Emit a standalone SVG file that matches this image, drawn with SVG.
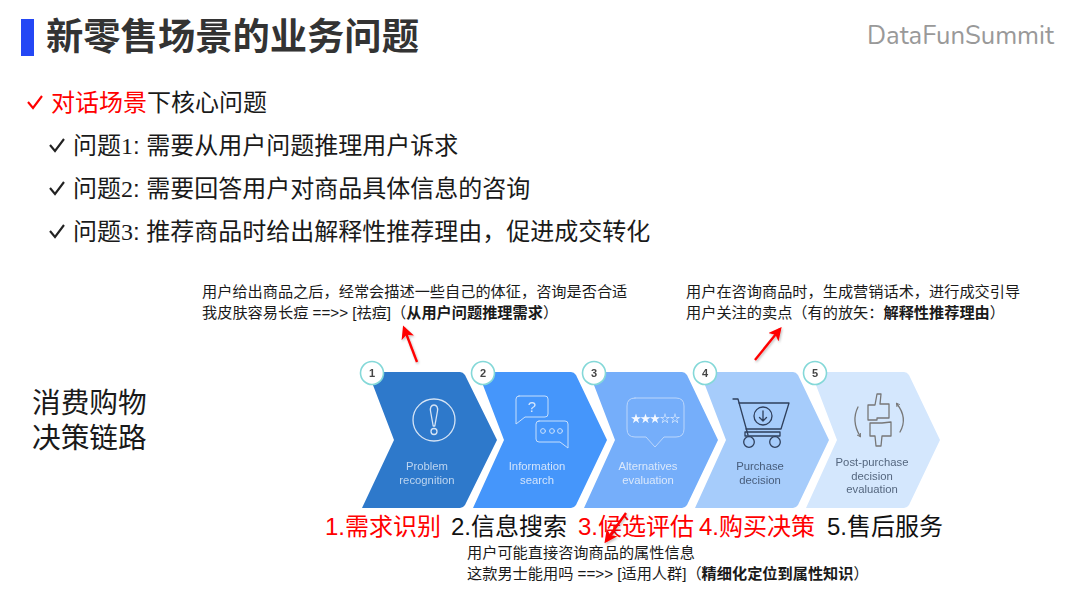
<svg xmlns="http://www.w3.org/2000/svg" width="1080" height="599" viewBox="0 0 1080 599">
<style>
text{font-family:"Liberation Sans","Noto Sans CJK SC",sans-serif}
.title{font-size:37.3px;font-weight:700;fill:#333}
.q{font-size:24px;fill:#1a1a1a}
.num{font-family:"Liberation Serif","Noto Sans CJK SC",serif}
.lead{font-size:28.7px;fill:#1a1a1a}
.step{font-size:24px;fill:#111}
.red{fill:#f00}
.note{font-size:15.2px;fill:#1a1a1a}
.b{font-weight:700}
.cap{font-size:11.3px;text-anchor:middle}
.idx{font-size:11px;font-weight:700;text-anchor:middle;fill:#444}
.ring{fill:#fff;stroke:#84d8d8;stroke-width:1.6}
.ico{fill:none;stroke-linejoin:round;stroke-linecap:round}
.arrow{fill:none;stroke:#f00;stroke-width:2.4;marker-end:url(#head)}
.check{fill:none;stroke-width:2.1;stroke-linejoin:miter}
</style>
<defs>
<marker id="head" viewBox="0 0 10 10" refX="8" refY="5" markerWidth="5.5" markerHeight="5.5" orient="auto"><path d="M0 0L10 5L0 10L2.5 5Z" fill="#f00"/></marker>
<marker id="curl" viewBox="0 0 10 10" refX="6" refY="5" markerWidth="3.6" markerHeight="3.6" orient="auto"><path d="M1 1L8 5L1 9" fill="none" stroke="#777" stroke-width="2"/></marker>
<filter id="soft" x="-5%" y="-5%" width="110%" height="110%"><feGaussianBlur stdDeviation="0.45"/></filter>
<filter id="sh" x="-30%" y="-30%" width="160%" height="160%"><feDropShadow dx="1" dy="1.5" stdDeviation="1" flood-color="#000" flood-opacity="0.25"/></filter>
</defs>
<rect width="1080" height="599" fill="#fff"/>
<g id="header">
<rect x="21" y="19" width="13" height="37" fill="#2447f5"/>
<text class="title" x="46" y="50">新零售场景的业务问题</text>
<text x="867" y="44" font-size="26" fill="#999" textLength="187" lengthAdjust="spacingAndGlyphs" style="font-family:'Nunito','Lato',sans-serif">DataFunSummit</text>
</g>
<g id="questions">
<path class="check" stroke="#f00" d="M28 102L33 108L42 96"/>
<text class="q" x="51" y="111"><tspan class="red">对话场景</tspan>下核心问题</text>
<path class="check" stroke="#222" d="M50 145L55 151L64 139"/>
<text class="q" x="73" y="154">问题<tspan class="num">1</tspan>: 需要从用户问题推理用户诉求</text>
<path class="check" stroke="#222" d="M50 188L55 194L64 182"/>
<text class="q" x="73" y="197">问题<tspan class="num">2</tspan>: 需要回答用户对商品具体信息的咨询</text>
<path class="check" stroke="#222" d="M50 231L55 237L64 225"/>
<text class="q" x="73" y="240">问题<tspan class="num">3</tspan>: 推荐商品时给出解释性推荐理由，促进成交转化</text>
</g>
<g id="lead">
<text class="lead" x="32" y="413">消费购物</text>
<text class="lead" x="32" y="448">决策链路</text>
</g>
<g id="chain" filter="url(#soft)">
<g id="step1">
<path d="M368 372H460Q463 372 465 375L497 440L465 505Q463 508 460 508H362L394 440Z" fill="#2f79cb"/>
<g class="ico" stroke="#d5e4f5" stroke-width="1.3"><circle cx="434" cy="420" r="21"/><path d="M434 405C437 405 438 408 437.5 411L434.8 426H433.2L430.5 411C430 408 431 405 434 405Z"/><circle cx="434" cy="431.5" r="3"/></g>
<text class="cap" x="427" y="470" fill="#bcd5f0">Problem</text><text class="cap" x="427" y="484" fill="#bcd5f0">recognition</text>
<circle class="ring" cx="372" cy="373" r="11.5"/><text class="idx" x="372" y="377">1</text>
</g>
<g id="step2">
<path d="M478 372H571Q574 372 576 375L607 440L576 505Q574 508 571 508H473L504 440Z" fill="#4596fb"/>
<g class="ico" stroke="#c7dffc" stroke-width="1"><path d="M519 396H545Q548 396 548 399V414Q548 417 545 417H525L516 424V399Q516 396 519 396Z"/><path d="M539 421H565Q568 421 568 424V448L560 442H539Q536 442 536 439V424Q536 421 539 421Z"/><circle cx="543" cy="431" r="2.4"/><circle cx="552" cy="431" r="2.4"/><circle cx="560" cy="431" r="2.4"/></g>
<text x="532" y="412" font-size="15" fill="#d5e6fc" text-anchor="middle">?</text>
<text class="cap" x="537" y="470" fill="#d2e4fc">Information</text><text class="cap" x="537" y="484" fill="#d2e4fc">search</text>
<circle class="ring" cx="483" cy="373" r="11.5"/><text class="idx" x="483" y="377">2</text>
</g>
<g id="step3">
<path d="M589 372H682Q685 372 687 375L718 440L687 505Q685 508 682 508H584L615 440Z" fill="#74aefa"/>
<g class="ico" stroke="#bcd6fb" stroke-width="1"><path d="M635 398H676Q684 398 684 406V429Q684 437 676 437H664L655 447L646 437H635Q627 437 627 429V406Q627 398 635 398Z"/></g>
<g fill="#f4f8ff" font-size="10.5" text-anchor="middle"><text x="636" y="422">★</text><text x="645.5" y="422">★</text><text x="655" y="422">★</text><text x="665" y="422">☆</text><text x="675" y="422">☆</text></g>
<text class="cap" x="648" y="470" fill="#dbe8fb">Alternatives</text><text class="cap" x="648" y="484" fill="#dbe8fb">evaluation</text>
<circle class="ring" cx="594" cy="373" r="11.5"/><text class="idx" x="594" y="377">3</text>
</g>
<g id="step4">
<path d="M700 372H793Q796 372 798 375L829 440L798 505Q796 508 793 508H695L726 440Z" fill="#a6ccfb"/>
<g class="ico" stroke="#2f3f5c" stroke-width="1.3"><path d="M733 399H738L748 435"/><path d="M739 403H789L781 429H746"/><rect x="745" y="432" width="35" height="4"/><circle cx="749" cy="442" r="5.3"/><circle cx="775" cy="442" r="5.3"/><circle cx="763" cy="416" r="9"/><path d="M763 411V421M759.5 417.5L763 421L766.5 417.5"/></g>
<text class="cap" x="760" y="470" fill="#475c7a">Purchase</text><text class="cap" x="760" y="484" fill="#475c7a">decision</text>
<circle class="ring" cx="705" cy="373" r="11.5"/><text class="idx" x="705" y="377">4</text>
</g>
<g id="step5">
<path d="M811 372H904Q907 372 909 375L940 440L909 505Q907 508 904 508H806L837 440Z" fill="#d4e7fd"/>
<g class="ico" stroke="#777" stroke-width="1.3"><path d="M868 405H875L877 394H881L880 404H889V418H877V420H868Z"/><path d="M870 423H882L891 422V436H882L881 446H876L875 436H870Z"/><path d="M858 407Q851 421 860 436" marker-end="url(#curl)"/><path d="M900 432Q908 418 897 404" marker-end="url(#curl)"/></g>
<text class="cap" x="872" y="466" fill="#55677f">Post-purchase</text><text class="cap" x="872" y="480" fill="#55677f">decision</text><text class="cap" x="872" y="493" fill="#55677f">evaluation</text>
<circle class="ring" cx="815" cy="373" r="11.5"/><text class="idx" x="815" y="377">5</text>
</g>
</g>
<g id="labels">
<text class="step red" x="325" y="535">1.需求识别</text>
<text class="step" x="451" y="535">2.信息搜索</text>
<text class="step red" x="578" y="535">3.候选评估</text>
<text class="step red" x="699" y="535">4.购买决策</text>
<text class="step" x="827" y="535">5.售后服务</text>
</g>
<g id="note1">
<text class="note" x="202" y="297">用户给出商品之后，经常会描述一些自己的体征，咨询是否合适</text>
<text class="note" x="202" y="318">我皮肤容易长痘 ==&gt;&gt; [祛痘]（<tspan class="b">从用户问题推理需求</tspan>）</text>
</g>
<g id="note2">
<text class="note" x="686" y="297">用户在咨询商品时，生成营销话术，进行成交引导</text>
<text class="note" x="686" y="318">用户关注的卖点（有的放矢：<tspan class="b">解释性推荐理由</tspan>）</text>
</g>
<g id="note3">
<text class="note" x="467" y="558">用户可能直接咨询商品的属性信息</text>
<text class="note" x="467" y="579">这款男士能用吗 ==&gt;&gt; [适用人群]（<tspan class="b">精细化定位到属性知识</tspan>）</text>
</g>
<g id="connectors" filter="url(#sh)">
<path class="arrow" d="M417 362L404 328"/>
<path class="arrow" d="M755 360L780 329"/>
<path class="arrow" d="M626 513L606 541"/>
</g>
</svg>
